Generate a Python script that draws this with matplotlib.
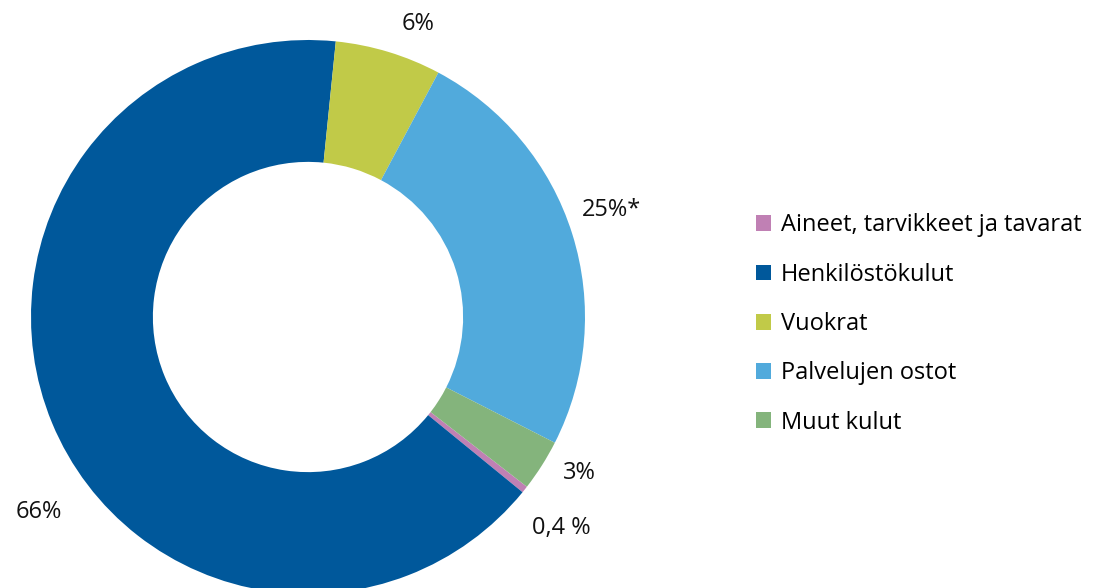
import numpy as np
import matplotlib.pyplot as plt
from matplotlib.patches import Patch

plt.rcParams['font.family'] = ['Open Sans', 'DejaVu Sans']

categories = ["Aineet, tarvikkeet ja tavarat", "Henkilöstökulut", "Vuokrat",
              "Palvelujen ostot", "Muut kulut"]
shares = [0.4, 65.7, 6.2, 24.7, 3.0]
labels = ["0,4 %", "66%", "6%", "25%*", "3%"]
colors = ["#C080B4", "#00589B", "#C1CA48", "#51AADC", "#84B47C"]

# label placement (angle in degrees, radius in pie radii)
label_angle = [-39.8, -144, 69.4, 19.4, -29.8]
label_radius = [1.19, 1.20, 1.13, 1.16, 1.13]

fig = plt.figure(figsize=(10.95, 5.88), dpi=100)
ax = fig.add_axes([31 / 1095, -6 / 588, 554 / 1095, 554 / 588])
ax.pie(shares, colors=colors, startangle=-37.8, counterclock=False, radius=1,
       wedgeprops=dict(width=0.44, linewidth=0))
ax.set_xlim(-1, 1)
ax.set_ylim(-1, 1)
ax.set_aspect('equal')
ax.axis('off')

for lab, a, r in zip(labels, label_angle, label_radius):
    t = np.deg2rad(a)
    ax.text(r * np.cos(t), r * np.sin(t), lab, ha='center', va='center',
            fontsize=17, color='#111111', clip_on=False)

handles = [Patch(facecolor=c, edgecolor='none') for c in colors]
fig.legend(handles, categories, loc='center left',
           bbox_to_anchor=(756 / 1095, 1 - 324 / 588), frameon=False,
           fontsize=17, handlelength=0.65, handleheight=0.65, handletextpad=0.4,
           labelspacing=1.07, borderpad=0, borderaxespad=0)

fig.savefig("out.png", dpi=100)
